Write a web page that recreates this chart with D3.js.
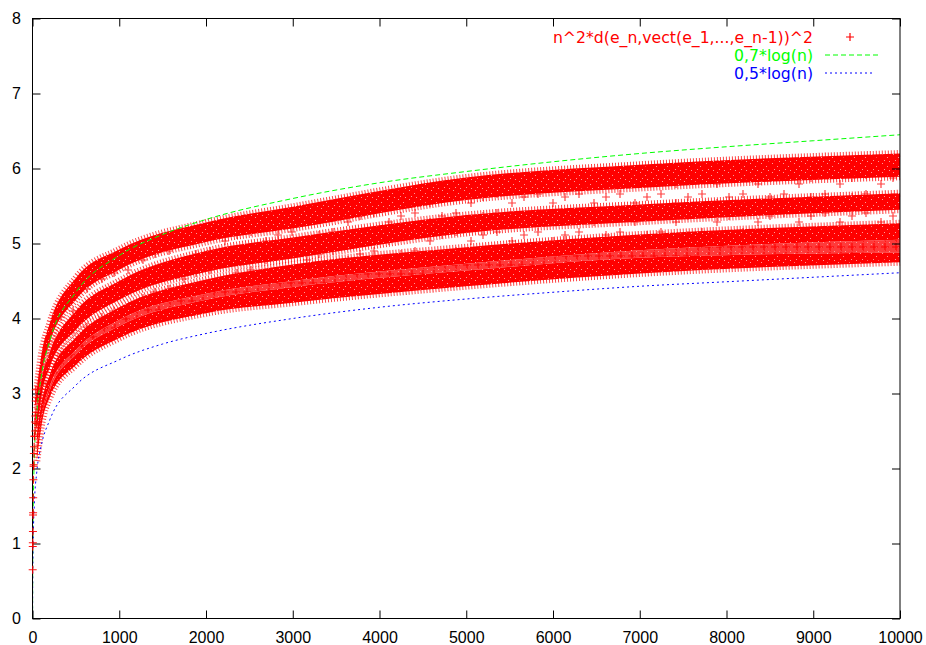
<!DOCTYPE html>
<html>
<head>
<meta charset="utf-8">
<script src="https://cdn.jsdelivr.net/npm/d3@7"></script>
<style>
  body { margin: 0; background: #fff; }
</style>
</head>
<body>
<svg id="chart" width="926" height="645"></svg>
<script>
// tick labels
const xTicks = [0, 1000, 2000, 3000, 4000, 5000, 6000, 7000, 8000, 9000, 10000];
const yTicks = [0, 1, 2, 3, 4, 5, 6, 7, 8];

// red scatter: edges of the three dense bands at these n
const bandN = [50, 100, 200, 500, 1000, 2000, 3000, 5000, 7000, 10000];
const upperTop = [3.05, 3.5, 3.94, 4.54, 4.92, 5.28, 5.49, 5.88, 6.05, 6.2];
const upperBottom = [2.8, 3.25, 3.68, 4.25, 4.65, 5.02, 5.2, 5.58, 5.74, 5.89];
const middleTop = [2.7, 3.15, 3.55, 4.1, 4.5, 4.9, 5.08, 5.38, 5.52, 5.67];
const middleBottom = [2.5, 2.95, 3.35, 3.85, 4.25, 4.62, 4.8, 5.14, 5.29, 5.45];
const lowerTop = [2.45, 2.85, 3.25, 3.75, 4.15, 4.52, 4.72, 4.95, 5.12, 5.27];
const lowerSplitTop = [2.3, 2.7, 3.1, 3.58, 3.98, 4.33, 4.5, 4.73, 4.91, 5.05];
const lowerSplitBottom = [2.25, 2.65, 3.04, 3.52, 3.9, 4.25, 4.42, 4.64, 4.81, 4.88];
const lowerBottom = [2.1, 2.55, 2.95, 3.38, 3.74, 4.07, 4.21, 4.43, 4.6, 4.75];

// the first points, still separate near the y axis
const earlyN = [2, 3, 4, 5, 6, 7, 8, 10, 12, 14, 16, 19, 22, 25, 28, 32, 36, 40, 45, 30, 38, 44];
const earlyValues = [0.65, 0.96, 1.01, 1.16, 1.38, 1.41, 1.61, 1.85, 2.03, 2.05, 2.2, 2.29, 2.43, 2.43, 2.62, 2.7, 2.9, 2.75, 2.95, 2.5, 3.05, 2.6];

// the two reference curves
const curveN = [1, 2, 5, 10, 20, 50, 100, 200, 500, 1000, 1500, 2000, 3000, 4000, 5000, 6000, 7000, 8000, 9000, 10000];
const greenValues = [0, 0.49, 1.13, 1.61, 2.1, 2.74, 3.22, 3.71, 4.35, 4.84, 5.12, 5.32, 5.6, 5.81, 5.96, 6.09, 6.2, 6.29, 6.37, 6.45];
const blueValues = [0, 0.35, 0.8, 1.15, 1.5, 1.96, 2.3, 2.65, 3.11, 3.45, 3.66, 3.8, 4.0, 4.15, 4.26, 4.35, 4.43, 4.49, 4.55, 4.61];

const legendLabels = ["n^2*d(e_n,vect(e_1,...,e_n-1))^2", "0,7*log(n)", "0,5*log(n)"];

const svg = d3.select("#chart");
const x = d3.scaleLinear().domain([0, 10000]).range([32.5, 900]);
const y = d3.scaleLinear().domain([0, 8]).range([618.5, 18.5]);

const plus = (cx, cy) => `M${cx - 4},${cy}h8M${cx},${cy - 4}v8`;

// patterns for the plus texture
const defs = svg.append("defs");
const addSpecks = (id, bg) => {
  const p = defs.append("pattern")
    .attr("id", id).attr("patternUnits", "userSpaceOnUse")
    .attr("width", 11).attr("height", 9);
  p.append("rect").attr("width", 11).attr("height", 9).attr("fill", bg);
  [[2, 1], [7, 4], [4, 7], [9, 8]].forEach(([a, b]) => {
    p.append("rect").attr("x", a).attr("y", b).attr("width", 1).attr("height", 1)
      .attr("fill", "#ff9a9a");
  });
  return p;
};
addSpecks("specks", "#ff0000");
addSpecks("medium", "#ff3a3a")
  .append("path").attr("d", plus(5, 4)).attr("stroke", "#ff0000").attr("stroke-width", 1.2);

const sparse = defs.append("pattern")
  .attr("id", "sparse").attr("patternUnits", "userSpaceOnUse")
  .attr("width", 41).attr("height", 19);
[[5, 4], [20, 13], [32, 7]].forEach(([a, b]) => {
  sparse.append("path").attr("d", plus(a, b))
    .attr("stroke", "#ff1010").attr("stroke-width", 1.2).attr("opacity", 0.8);
});

const rows = bandN.map((n, i) => ({ n, i }));
const band = (hi, lo) => d3.area()
  .x((d) => x(d.n))
  .y0((d) => y(lo[d.i]))
  .y1((d) => y(hi[d.i]))
  .curve(d3.curveMonotoneX);
const edge = (vals) => d3.line()
  .x((d) => x(d.n))
  .y((d) => y(vals[d.i]))
  .curve(d3.curveMonotoneX);

const pts = svg.append("g");

// stray points between the bands
pts.append("path").attr("d", band(upperBottom, middleTop)(rows)).attr("fill", "url(#sparse)");
pts.append("path").attr("d", band(middleBottom, lowerTop)(rows)).attr("fill", "url(#sparse)");

// dense bands (the lower one has a thinner strip inside)
const bands = [
  [upperTop, upperBottom],
  [middleTop, middleBottom],
  [lowerTop, lowerSplitTop],
  [lowerSplitBottom, lowerBottom]
];
pts.append("path").attr("d", band(lowerSplitTop, lowerSplitBottom)(rows)).attr("fill", "url(#medium)");
bands.forEach(([t, b], k) => {
  pts.append("path").attr("d", band(t, b)(rows)).attr("fill", "url(#specks)");
  const outer = k === 2 ? [t] : k === 3 ? [b] : [t, b];
  outer.forEach((v) => {
    pts.append("path").attr("d", edge(v)(rows))
      .attr("fill", "none").attr("stroke", "#ff0000")
      .attr("stroke-width", 7).attr("stroke-dasharray", "1 2")
      .attr("opacity", 0.75);
  });
});

// curves
const curve = (vals) => d3.line()
  .x((n) => x(n))
  .y((n, i) => y(vals[i]))
  .curve(d3.curveMonotoneX);
svg.append("path").attr("d", curve(greenValues)(curveN))
  .attr("fill", "none").attr("stroke", "#00ff00").attr("stroke-width", 1)
  .attr("stroke-dasharray", "5 3");
svg.append("path").attr("d", curve(blueValues)(curveN))
  .attr("fill", "none").attr("stroke", "#0000ff").attr("stroke-width", 1)
  .attr("stroke-dasharray", "2 3");

// axes, ticks inside and mirrored
const axisB = svg.append("g").attr("transform", "translate(0,618.5)")
  .call(d3.axisBottom(x).tickValues(xTicks).tickSize(-8).tickPadding(13).tickFormat(d3.format("d")));
const axisL = svg.append("g").attr("transform", "translate(32.5,0)")
  .call(d3.axisLeft(y).tickValues(yTicks).tickSize(-8).tickPadding(11.5).tickFormat(d3.format("d")));
const axisT = svg.append("g").attr("transform", "translate(0,18.5)")
  .call(d3.axisTop(x).tickValues(xTicks).tickSize(-8).tickFormat(""));
const axisR = svg.append("g").attr("transform", "translate(900,0)")
  .call(d3.axisRight(y).tickValues(yTicks).tickSize(-8).tickFormat(""));
[axisB, axisL, axisT, axisR].forEach((g) => {
  g.select(".domain").remove();
  g.selectAll("text")
    .style("font-size", "16px")
    .style("font-family", "'Liberation Sans', Arial, sans-serif")
    .attr("fill", "#000");
  g.selectAll("line").attr("stroke", "#000");
});
svg.append("rect")
  .attr("x", 32.5).attr("y", 18.5).attr("width", 867.5).attr("height", 600)
  .attr("fill", "none").attr("stroke", "#000").attr("stroke-width", 1);

// single pluses near the axis
svg.append("g").selectAll("path")
  .data(earlyN)
  .enter()
  .append("path")
  .attr("d", (n, i) => plus(x(n), y(earlyValues[i])))
  .attr("stroke", "#ff0000").attr("stroke-width", 1.2).attr("opacity", 0.9);

// legend
const legendColors = ["#ff0000", "#00ff00", "#0000ff"];
const legendY = [37, 55, 73];
const legend = svg.append("g");
legend.selectAll("text")
  .data(legendLabels)
  .enter()
  .append("text")
  .attr("x", 813)
  .attr("y", (d, i) => legendY[i])
  .attr("dy", "0.36em")
  .attr("text-anchor", "end")
  .style("font-family", "'DejaVu Sans', sans-serif")
  .style("font-size", "15.7px")
  .attr("fill", (d, i) => legendColors[i])
  .text((d) => d);
legend.append("path").attr("d", plus(850, legendY[0]))
  .attr("stroke", "#ff0000").attr("stroke-width", 1.2);
legend.append("line").attr("x1", 825).attr("x2", 878).attr("y1", legendY[1]).attr("y2", legendY[1])
  .attr("stroke", "#00ff00").attr("stroke-dasharray", "5 3");
legend.append("line").attr("x1", 825).attr("x2", 875).attr("y1", legendY[2]).attr("y2", legendY[2])
  .attr("stroke", "#0000ff").attr("stroke-dasharray", "2 3");
</script>
</body>
</html>
